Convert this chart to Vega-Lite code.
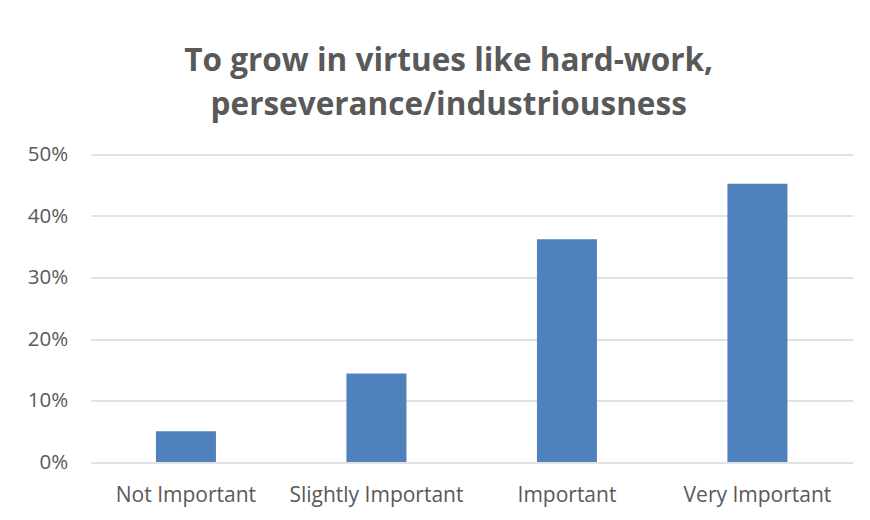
{
  "$schema": "https://vega.github.io/schema/vega-lite/v6.json",
  "width": 762,
  "height": 307.5,
  "autosize": {"type": "none"},
  "padding": {"left": 90.7, "top": 154.5, "right": 17.3, "bottom": 58},
  "background": "white",
  "title": {
    "text": ["To grow in virtues like hard-work,", "perseverance/industriousness"],
    "anchor": "middle",
    "dx": -23,
    "font": "Open Sans",
    "fontSize": 31.5,
    "fontWeight": "bold",
    "color": "#595959",
    "lineHeight": 44,
    "offset": 23
  },
  "data": {
    "values": [
      {"category": "Not Important", "value": 0.05},
      {"category": "Slightly Important", "value": 0.144},
      {"category": "Important", "value": 0.362},
      {"category": "Very Important", "value": 0.4525}
    ]
  },
  "mark": {"type": "bar", "color": "#4f81bd"},
  "encoding": {
    "x": {
      "field": "category",
      "type": "nominal",
      "sort": null,
      "scale": {"paddingInner": 0.685, "paddingOuter": 0.3425},
      "axis": {
        "title": null,
        "labelAngle": 0,
        "ticks": false,
        "domain": false,
        "labelPadding": 22,
        "labelFont": "Open Sans",
        "labelFontSize": 21,
        "labelColor": "#595959"
      }
    },
    "y": {
      "field": "value",
      "type": "quantitative",
      "scale": {"domain": [0, 0.5], "nice": false},
      "axis": {
        "title": null,
        "values": [0, 0.1, 0.2, 0.3, 0.4, 0.5],
        "format": ".0%",
        "ticks": false,
        "domain": false,
        "labelPadding": 23,
        "labelFont": "Open Sans",
        "labelFontSize": 20.5,
        "labelColor": "#595959",
        "gridColor": "#d9d9d9",
        "gridWidth": 1.5
      }
    }
  },
  "config": {"view": {"stroke": null}}
}
